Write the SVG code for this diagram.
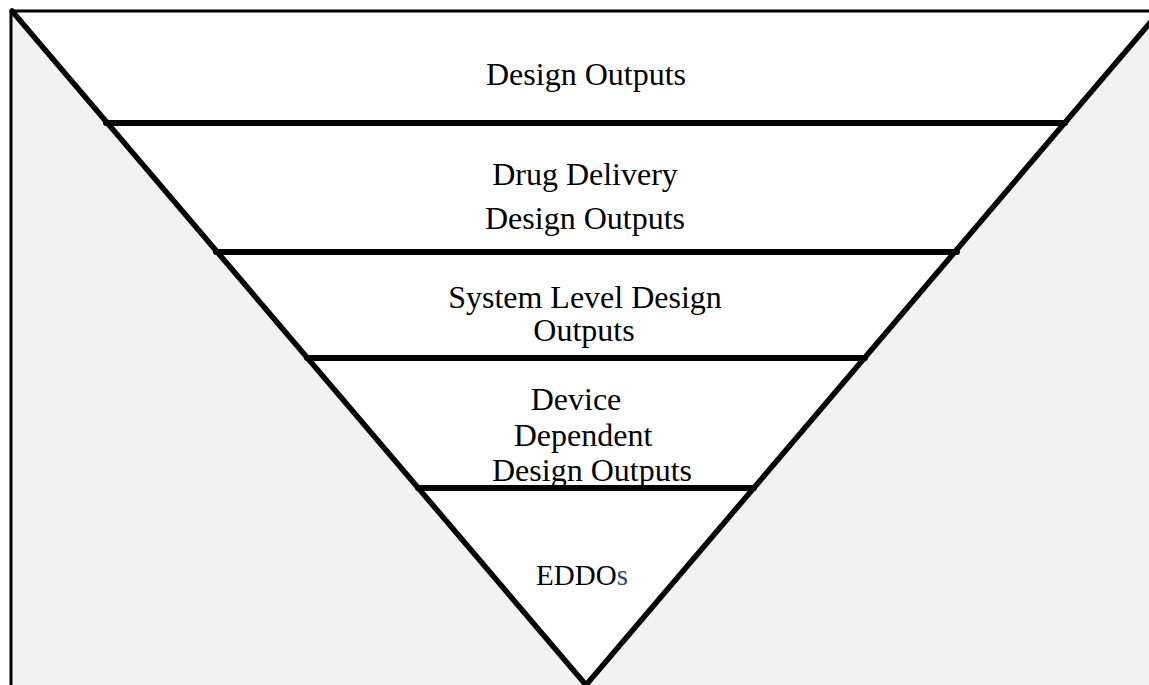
<svg xmlns="http://www.w3.org/2000/svg" width="1149" height="685" viewBox="0 0 1149 685">
  <style>
    .edge { stroke: #000; stroke-width: 5.5; stroke-linecap: round; fill: none; }
    .bar { stroke: #000; stroke-width: 6; stroke-linecap: round; fill: none; }
    .frame { stroke: #000; stroke-width: 3; fill: none; }
    .label { font-family: "Liberation Serif", "Times New Roman", serif; font-size: 32px; fill: #000; text-anchor: middle; }
    .small { font-size: 29px; }
    .accent { fill: #2e4a6b; }
  </style>
  <rect x="0" y="0" width="1149" height="685" fill="#ffffff"/>
  <!-- shaded background outside the funnel -->
  <rect x="11" y="11" width="1138" height="674" fill="#f2f2f2"/>
  <!-- funnel body -->
  <polygon points="12,11 1160,11 586,685" fill="#ffffff"/>

  <!-- frame -->
  <g id="frame">
    <line class="frame" x1="11" y1="11" x2="1149" y2="11"/>
    <line class="frame" x1="11" y1="11" x2="11" y2="685"/>
  </g>

  <g id="connectors">
    <line class="edge" x1="12" y1="11" x2="586" y2="685"/>
    <line class="edge" x1="1160" y1="11" x2="586" y2="685"/>
    <line class="bar" x1="106" y1="123" x2="1065" y2="123"/>
    <line class="bar" x1="216" y1="252" x2="957" y2="252"/>
    <line class="bar" x1="307" y1="358" x2="865" y2="358"/>
    <line class="bar" x1="418" y1="488" x2="754" y2="488"/>
  </g>

  <g id="design-outputs">
    <text class="label" x="586" y="85">Design Outputs</text>
  </g>
  <g id="drug-delivery">
    <text class="label" x="585" y="185">Drug Delivery</text>
    <text class="label" x="585" y="229">Design Outputs</text>
  </g>
  <g id="system-level">
    <text class="label" x="585" y="308">System Level Design</text>
    <text class="label" x="584" y="341">Outputs</text>
  </g>
  <g id="device-dependent">
    <text class="label" x="576" y="410">Device</text>
    <text class="label" x="583" y="446">Dependent</text>
    <text class="label" x="592" y="481">Design Outputs</text>
  </g>
  <g id="eddos">
    <text class="label small" x="582" y="585">EDDO<tspan class="accent">s</tspan></text>
  </g>
</svg>
